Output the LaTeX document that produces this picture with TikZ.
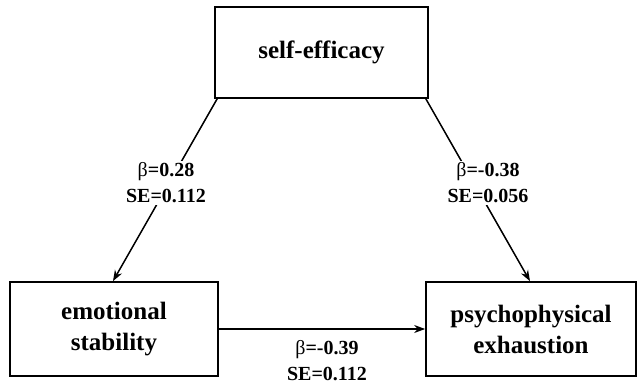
\documentclass[tikz,border=0pt]{standalone}
\usepackage{fontspec}
\setmainfont{Liberation Serif}
\usetikzlibrary{arrows.meta}
\begin{document}
\begin{tikzpicture}[x=1pt,y=-1pt,
  box/.style={draw,line width=1.7pt,inner sep=0pt,align=center,
    font=\fontsize{25}{31}\selectfont\bfseries},
  conn/.style={line width=1.5pt,-{Stealth[length=11pt,width=8pt]}},
  lbl/.style={fill=white,inner sep=2pt,align=center,
    font=\fontsize{20}{26}\selectfont\bfseries}]
\useasboundingbox (0,0) rectangle (638,385);
\node[box,minimum width=213pt,minimum height=91pt] (se) at (321.5,52.5) {self-efficacy};
\node[box,minimum width=208pt,minimum height=94pt] (es) at (114,329) {emotional\\stability};
\node[box,minimum width=210pt,minimum height=94pt] (pe) at (531,329) {psychophysical\\exhaustion};
\draw[conn] ([xshift=3pt]se.south west) -- ([xshift=-1pt]es.north);
\draw[conn] ([xshift=-3pt]se.south east) -- ([xshift=-1pt]pe.north);
\draw[conn] (es.east) -- (pe.west);
\node[lbl] (l1) at (166,183) {{\mdseries β}=0.28\\SE=0.112};
\node[lbl] (l2) at (488,183) {{\mdseries β}=-0.38\\SE=0.056};
\node[lbl,fill=none] (l3) at (327,361) {{\mdseries β}=-0.39\\SE=0.112};
\end{tikzpicture}
\end{document}
